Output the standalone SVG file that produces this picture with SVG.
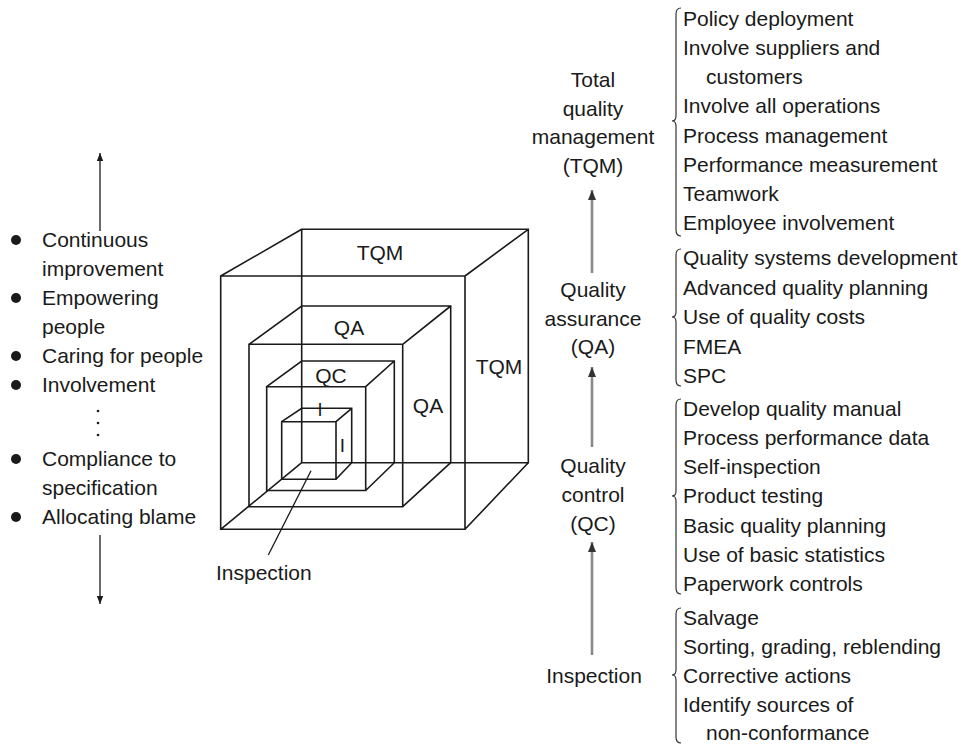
<svg xmlns="http://www.w3.org/2000/svg" width="961" height="745" viewBox="0 0 961 745">
<defs>
<style>
text{font-family:"Liberation Sans",Arial,sans-serif;font-size:21px;fill:#1a1a1a}
.c{text-anchor:middle}
.edge{fill:none;stroke:#1a1a1a;stroke-width:1.6;stroke-linejoin:miter}
.brace{fill:none;stroke:#333;stroke-width:1.2}
.blk{stroke:#1a1a1a;stroke-width:1.3;fill:none}
.gry{stroke:#8a8a8a;stroke-width:2.6;fill:none}
</style>
<marker id="ah" viewBox="0 0 10 10" refX="10" refY="5" markerUnits="userSpaceOnUse" markerWidth="8" markerHeight="12" orient="auto">
<path d="M0,1 L10,5 L0,9 Z" fill="#1a1a1a"/>
</marker>
<marker id="ahg" viewBox="0 0 10 10" refX="10" refY="5" markerUnits="userSpaceOnUse" markerWidth="10" markerHeight="10" orient="auto">
<path d="M0,1 L10,5 L0,9 Z" fill="#333"/>
</marker>
</defs>
<rect width="961" height="745" fill="#fff"/>

<g id="left-list">
<circle cx="16" cy="240" r="5" fill="#1a1a1a"/>
<text x="42" y="247">Continuous</text>
<text x="42" y="276">improvement</text>
<circle cx="16" cy="298" r="5" fill="#1a1a1a"/>
<text x="42" y="305">Empowering</text>
<text x="42" y="334">people</text>
<circle cx="16" cy="356" r="5" fill="#1a1a1a"/>
<text x="42" y="363">Caring for people</text>
<circle cx="16" cy="385" r="5" fill="#1a1a1a"/>
<text x="42" y="392">Involvement</text>
<circle cx="98" cy="411" r="1.3" fill="#1a1a1a"/>
<circle cx="98" cy="423" r="1.3" fill="#1a1a1a"/>
<circle cx="98" cy="435" r="1.3" fill="#1a1a1a"/>
<circle cx="16" cy="459" r="5" fill="#1a1a1a"/>
<text x="42" y="466">Compliance to</text>
<text x="42" y="495">specification</text>
<circle cx="16" cy="517" r="5" fill="#1a1a1a"/>
<text x="42" y="524">Allocating blame</text>
</g>

<g id="cube-tqm">
<path class="edge" d="M220.7,276 H465 V529.3 H220.7 Z M301.7,229.3 H528.3 V462.7 H301.7 Z M220.7,276 L301.7,229.3 M465,276 L528.3,229.3 M465,529.3 L528.3,462.7 M220.7,529.3 L301.7,462.7"/>
<text class="c" x="380" y="260">TQM</text>
<text class="c" x="499" y="374">TQM</text>
</g>
<g id="cube-qa">
<path class="edge" d="M249,344.3 H402.7 V506.7 H249 Z M249,344.3 L301.7,306 H450.7 V462.7 M402.7,344.3 L450.7,306 M402.7,506.7 L450.7,462.7"/>
<text class="c" x="349" y="335">QA</text>
<text class="c" x="428" y="413">QA</text>
</g>
<g id="cube-qc">
<path class="edge" d="M266.7,386.7 H365.7 V490.5 H266.7 Z M266.7,386.7 L301.7,361 H394.3 V462.7 M365.7,386.7 L394.3,361 M365.7,490.5 L394.3,462.7"/>
<text class="c" x="331" y="383">QC</text>
</g>
<g id="cube-inspection">
<path class="edge" d="M281.7,421.7 H336 V479.3 H281.7 Z M281.7,421.7 L301.7,408.3 H351.7 V462.7 M336,421.7 L351.7,408.3 M336,479.3 L351.7,462.7"/>
<text class="c" x="320" y="416" style="font-size:18px">I</text>
<text class="c" x="342.5" y="452" style="font-size:19px">I</text>
</g>
<g id="inspection-label">
<text x="216" y="580">Inspection</text>
</g>

<g id="middle-column">
<text class="c" x="593" y="87">Total</text>
<text class="c" x="593" y="116">quality</text>
<text class="c" x="593" y="144">management</text>
<text class="c" x="593" y="173">(TQM)</text>
<text class="c" x="593" y="297">Quality</text>
<text class="c" x="593" y="326">assurance</text>
<text class="c" x="593" y="354">(QA)</text>
<text class="c" x="593" y="473">Quality</text>
<text class="c" x="593" y="502">control</text>
<text class="c" x="593" y="531">(QC)</text>
<text class="c" x="594" y="683">Inspection</text>
</g>

<g id="right-lists">
<text x="683" y="26">Policy deployment</text>
<text x="683" y="55">Involve suppliers and</text>
<text x="706" y="84">customers</text>
<text x="683" y="113">Involve all operations</text>
<text x="683" y="143">Process management</text>
<text x="683" y="172">Performance measurement</text>
<text x="683" y="201">Teamwork</text>
<text x="683" y="230">Employee involvement</text>

<text x="683" y="265">Quality systems development</text>
<text x="683" y="295">Advanced quality planning</text>
<text x="683" y="324">Use of quality costs</text>
<text x="683" y="354">FMEA</text>
<text x="683" y="383">SPC</text>

<text x="683" y="416">Develop quality manual</text>
<text x="683" y="445">Process performance data</text>
<text x="683" y="474">Self-inspection</text>
<text x="683" y="503">Product testing</text>
<text x="683" y="533">Basic quality planning</text>
<text x="683" y="562">Use of basic statistics</text>
<text x="683" y="591">Paperwork controls</text>

<text x="683" y="625">Salvage</text>
<text x="683" y="654">Sorting, grading, reblending</text>
<text x="683" y="683">Corrective actions</text>
<text x="683" y="712">Identify sources of</text>
<text x="706" y="740">non-conformance</text>
</g>

<g id="braces">
<path class="brace" d="M681,8 Q676,8 676,14 L676,116 Q676,121 672,121 Q676,121 676,126 L676,230 Q676,236 681,236"/>
<path class="brace" d="M681,249 Q676,249 676,255 L676,312 Q676,317 672,317 Q676,317 676,322 L676,380 Q676,386 681,386"/>
<path class="brace" d="M681,399 Q676,399 676,405 L676,491 Q676,496 672,496 Q676,496 676,501 L676,588 Q676,594 681,594"/>
<path class="brace" d="M681,608 Q676,608 676,614 L676,670 Q676,675 672,675 Q676,675 676,680 L676,737 Q676,743 681,743"/>
</g>

<g id="connectors">
<line class="blk" x1="100" y1="231" x2="100" y2="153" marker-end="url(#ah)"/>
<line class="blk" x1="100" y1="535" x2="100" y2="604" marker-end="url(#ah)"/>
<line class="gry" x1="592" y1="273" x2="592" y2="190" marker-end="url(#ahg)"/>
<line class="gry" x1="592" y1="447" x2="592" y2="367" marker-end="url(#ahg)"/>
<line class="gry" x1="592" y1="655" x2="592" y2="542" marker-end="url(#ahg)"/>
<line class="blk" x1="268.3" y1="555" x2="311" y2="470.7"/>
</g>
</svg>
